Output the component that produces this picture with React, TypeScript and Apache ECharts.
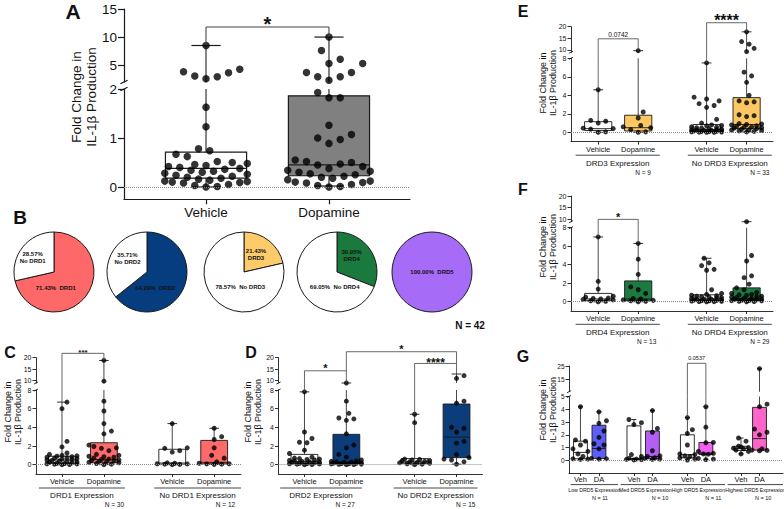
import React, { useEffect, useRef } from 'react';
import * as echarts from 'echarts';

const FAMILY = '"Liberation Sans", Arial, Helvetica, sans-serif';
const fnt = (size: number, bold = false) => `${bold ? 'bold ' : ''}${size}px ${FAMILY}`;

/* ======================= DATA ======================= */
// Panel A
const aCategories = ['Vehicle', 'Dopamine'];
const aVehicle = [8.5, 4.26, 3.83, 3.66, 3.07, 2.94, 2.59, 1.63, 1.23, 0.78, 0.74, 0.67, 0.62, 0.52, 0.5, 0.48, 0.46, 0.44, 0.42, 0.4, 0.38, 0.36, 0.34, 0.32, 0.3, 0.28, 0.26, 0.24, 0.22, 0.2, 0.18, 0.16, 0.14, 0.12, 0.11, 0.1, 0.09, 0.08, 0.05, 0.03, 0.01, 0.0];
const aDopamine = [10, 7.6, 6.05, 5.3, 5.3, 3.7, 3.7, 2.95, 2.95, 2.3, 1.93, 1.82, 1.82, 1.26, 1.07, 1.0, 0.97, 0.89, 0.55, 0.52, 0.5, 0.47, 0.45, 0.42, 0.38, 0.34, 0.32, 0.3, 0.27, 0.25, 0.22, 0.2, 0.18, 0.15, 0.12, 0.1, 0.09, 0.08, 0.05, 0.03, 0.01, 0.0];
// [min, q1, median, q3, max]
const aBoxStats = [[0, 0.18, 0.38, 0.71, 8.5], [0.02, 0.23, 0.45, 1.86, 10]];
const aSignificance = [{ a: 0, b: 1, top: 11.8, left: 8.5, right: 10, text: '*' }];

// Panel B
const pieNames = [['DRD1', 'No DRD1'], ['DRD2', 'No DRD2'], ['DRD3', 'No DRD3'], ['DRD4', 'No DRD4'], ['DRD5']];
const pieValues = [[71.43, 28.57], [64.29, 35.71], [21.43, 78.57], [30.95, 69.05], [100]];
const pieTotal = 'N = 42';

// Panel C
const pairCategories = ['Vehicle', 'Dopamine', 'Vehicle', 'Dopamine'];
const cDrd1Vehicle = [6.7, 6.0, 2.5, 1.9, 1.25, 1.1, 1.0, 0.95, 0.9, 0.85, 0.8, 0.75, 0.7, 0.65, 0.6, 0.55, 0.5, 0.45, 0.4, 0.35, 0.3, 0.25, 0.2, 0.15, 0.12, 0.1, 0.08, 0.05, 0.02, 0.0];
const cDrd1Dopamine = [18.8, 9.8, 6.8, 5.75, 4.4, 3.6, 3.3, 2.1, 1.95, 1.8, 1.75, 1.5, 1.1, 1.0, 0.9, 0.85, 0.8, 0.7, 0.6, 0.55, 0.5, 0.45, 0.4, 0.35, 0.3, 0.25, 0.2, 0.12, 0.05, 0.0];
const cNoDrd1Vehicle = [4.4, 1.8, 1.75, 1.5, 1.35, 0.2, 0.15, 0.1, 0.08, 0.05, 0.03, 0.0];
const cNoDrd1Dopamine = [3.9, 3.0, 2.7, 1.8, 1.0, 0.7, 0.3, 0.15, 0.1, 0.08, 0.05, 0.03];
const cBoxStats = [[0, 0.15, 0.5, 0.9, 6.7], [0, 0.2, 0.55, 2.35, 18.8], [0, 0.05, 0.18, 1.65, 4.4], [0.03, 0.08, 0.25, 2.6, 3.9]];
const cSignificance = [{ a: 0, b: 1, top: 21.9, left: 6.7, right: 18.8, text: '***' }];
const cGroupLabels = ['DRD1 Expression', 'No DRD1 Expression'];
const cGroupN = ['N = 30', 'N = 12'];

// Panel D
const dDrd2Vehicle = [7.8, 3.5, 2.8, 2.4, 2.35, 1.55, 1.2, 0.8, 0.7, 0.65, 0.6, 0.55, 0.5, 0.45, 0.4, 0.35, 0.3, 0.28, 0.25, 0.2, 0.15, 0.12, 0.1, 0.08, 0.05, 0.02, 0.0];
const dDrd2Dopamine = [9.0, 6.8, 5.5, 5.0, 4.9, 4.75, 3.3, 2.1, 1.8, 1.1, 0.8, 0.5, 0.4, 0.35, 0.3, 0.28, 0.25, 0.2, 0.18, 0.15, 0.12, 0.1, 0.08, 0.06, 0.04, 0.02, 0.0];
const dNoDrd2Vehicle = [5.4, 4.5, 0.6, 0.55, 0.5, 0.45, 0.4, 0.35, 0.3, 0.25, 0.2, 0.15, 0.1, 0.05, 0.0];
const dNoDrd2Dopamine = [12.2, 11.0, 6.8, 6.6, 4.0, 3.9, 3.5, 2.5, 2.3, 1.1, 0.75, 0.6, 0.5, 0.3, 0.05];
const dBoxStats = [[0, 0.1, 0.35, 1.1, 7.8], [0, 0.12, 0.3, 3.25, 9.0], [0, 0.15, 0.3, 0.65, 5.4], [0.05, 0.75, 2.95, 6.5, 12.9]];
const dSignificance = [
  { a: 0, b: 1, top: 14.3, left: 7.8, right: 9.0, text: '*' },
  { a: 2, b: 3, top: 17.5, left: 5.4, right: 12.9, text: '****' },
  { a: 1, b: 3, top: 22.6, left: 14.3, right: 17.5, text: '*' },
];
const dGroupLabels = ['DRD2 Expression', 'No DRD2 Expression'];
const dGroupN = ['N = 27', 'N = 15'];

// Panel E
const eDrd3Vehicle = [4.6, 1.3, 1.2, 1.0, 0.45, 0.4, 0.35, 0.05, 0.0];
const eDrd3Dopamine = [9.7, 2.2, 1.55, 0.75, 0.6, 0.5, 0.3, 0.05, 0.0];
const eNoDrd3Vehicle = [7.5, 3.8, 3.6, 3.4, 3.1, 2.9, 2.7, 1.4, 1.0, 0.8, 0.75, 0.7, 0.6, 0.55, 0.5, 0.45, 0.4, 0.35, 0.3, 0.28, 0.25, 0.22, 0.2, 0.18, 0.15, 0.12, 0.1, 0.08, 0.06, 0.04, 0.02, 0.01, 0.0];
const eNoDrd3Dopamine = [17.8, 13.6, 12.5, 10.7, 9.3, 6.5, 6.1, 5.4, 4.0, 3.4, 3.3, 3.2, 1.9, 1.8, 1.7, 0.95, 0.9, 0.85, 0.8, 0.7, 0.65, 0.6, 0.55, 0.5, 0.45, 0.4, 0.35, 0.3, 0.25, 0.2, 0.15, 0.1, 0.05];
const eBoxStats = [[0, 0.2, 0.4, 1.15, 4.6], [0, 0.15, 0.5, 1.85, 9.7], [0, 0.1, 0.3, 0.85, 7.5], [0.05, 0.4, 0.85, 3.75, 17.8]];
const eSignificance = [
  { a: 0, b: 1, top: 14.8, left: 4.6, right: 9.7, text: '0.0742' },
  { a: 2, b: 3, top: 21.7, left: 7.5, right: 17.8, text: '****' },
];
const eGroupLabels = ['DRD3 Expression', 'No DRD3 Expression'];
const eGroupN = ['N = 9', 'N = 33'];

// Panel F
const fDrd4Vehicle = [7.0, 2.2, 1.37, 0.6, 0.5, 0.4, 0.35, 0.3, 0.25, 0.2, 0.1, 0.05, 0.0];
const fDrd4Dopamine = [6.3, 4.6, 2.95, 1.6, 1.3, 0.9, 0.35, 0.3, 0.2, 0.15, 0.1, 0.05, 0.0];
const fNoDrd4Vehicle = [4.7, 4.2, 3.9, 3.5, 3.4, 1.3, 0.9, 0.8, 0.7, 0.65, 0.6, 0.55, 0.5, 0.45, 0.4, 0.35, 0.3, 0.28, 0.25, 0.2, 0.18, 0.15, 0.12, 0.1, 0.08, 0.05, 0.03, 0.01, 0.0];
const fNoDrd4Dopamine = [9.0, 5.0, 4.4, 2.8, 2.6, 1.9, 1.5, 1.3, 1.0, 0.9, 0.8, 0.75, 0.7, 0.6, 0.55, 0.5, 0.45, 0.4, 0.35, 0.3, 0.25, 0.2, 0.18, 0.15, 0.12, 0.1, 0.05, 0.02, 0.0];
const fBoxStats = [[0, 0.12, 0.3, 0.9, 7.0], [0, 0.1, 0.3, 2.25, 6.3], [0, 0.1, 0.3, 0.75, 4.7], [0, 0.15, 0.35, 1.5, 9.0]];
const fSignificance = [{ a: 0, b: 1, top: 10, left: 7.0, right: 6.3, text: '*' }];
const fGroupLabels = ['DRD4 Expression', 'No DRD4 Expression'];
const fGroupN = ['N = 13', 'N = 29'];

// Panel G
const gCategories = ['Veh', 'DA', 'Veh', 'DA', 'Veh', 'DA', 'Veh', 'DA'];
const gLowVeh = [4.2, 1.6, 1.5, 1.2, 0.9, 0.7, 0.5, 0.3, 0.12, 0.1, 0.08];
const gLowDA = [3.8, 3.1, 2.9, 2.3, 1.8, 1.3, 1.2, 0.9, 0.15, 0.12, 0.1];
const gMedVeh = [3.2, 2.95, 2.8, 0.45, 0.3, 0.15, 0.1, 0.08, 0.05, 0.03];
const gMedDA = [3.9, 2.5, 2.2, 0.75, 0.35, 0.3, 0.2, 0.15, 0.1, 0.08];
const gHighVeh = [3.35, 2.4, 2.1, 1.2, 0.5, 0.45, 0.35, 0.3, 0.2, 0.1, 0.02];
const gHighDA = [4.2, 2.6, 1.4, 1.38, 0.7, 0.55, 0.5, 0.48, 0.15, 0.1, 0.05];
const gHighestVeh = [1.75, 1.5, 1.1, 1.05, 1.0, 0.95, 0.9, 0.8, 0.7, 0.5];
const gHighestDA = [23, 4.4, 4.2, 2.45, 2.2, 2.0, 0.9, 0.8, 0.78, 0.75];
const gBoxStats = [[0.08, 0.12, 0.62, 1.5, 4.2], [0.1, 0.15, 0.93, 2.75, 3.8], [0.03, 0.06, 0.15, 2.7, 3.2], [0.08, 0.12, 0.3, 2.3, 3.9], [0.02, 0.2, 0.45, 2.0, 3.35], [0.05, 0.45, 0.55, 1.4, 4.2], [0.5, 0.78, 0.95, 1.1, 1.75], [0.75, 0.8, 1.7, 4.15, 23]];
const gSignificance = [{ a: 4, b: 5, top: 27, left: 3.35, right: 4.2, text: '0.0537' }];
const gGroupLabels = ['Low DRD5 Expression', 'Med DRD5 Expression', 'High DRD5 Expression', 'Highest DRD5 Expression'];
const gGroupN = ['N = 11', 'N = 10', 'N = 11', 'N = 10'];

const yTitle = 'Fold Change in\nIL-1β Production';

/* ======================= LAYOUT / STYLE ======================= */
type Seg = { top: number; bottom: number; min: number; max: number; ticks: number[] };
type Sig = { a: number; b: number; top: number; left: number; right: number; text: string };
type Layout = {
  left: number; width: number; xMin: number; xMax: number; pos: number[];
  upper: Seg; lower: Seg;
  boxW: number; dot: number; spread: number; sx: number; sy: number; lw: number;
  tickFont: number; tickLen: number; yMargin: number;
  xFont: number; xTickLen: number; xMargin: number;
  sigFont: number[]; sigBold: boolean[]; sigLift: number[];
  spans: number[][]; nAt: number[];
  gLine: number; gLabel: number; gN: number; gFont: number; nFont: number;
};
type PanelDef = {
  L: Layout; labels: string[]; values: number[][]; stats: number[][]; fills: string[];
  sig: Sig[]; groupLabels: string[]; groupN: string[];
};

const pairUpper = (top: number, bottom: number): Seg => ({ top, bottom, min: 9, max: 20, ticks: [10, 15, 20] });
const pairLower = (top: number, bottom: number): Seg => ({ top, bottom, min: -1, max: 8, ticks: [0, 2, 4, 6, 8] });

const baseSmall = {
  boxW: 0.64, dot: 5, spread: 1.25, sx: 1.25, sy: 1.6, lw: 0.9,
  tickFont: 7, tickLen: 3.5, yMargin: 4.5,
  xFont: 7.5, xTickLen: 3, xMargin: 3.5,
  gLine: 14, gLabel: 21.7, gN: 30, gFont: 8, nFont: 6.5,
};

const layoutA: Layout = {
  left: 124, width: 286, xMin: -0.667, xMax: 1.659, pos: [0, 1],
  upper: { top: 9, bottom: 82, min: 2, max: 15, ticks: [5, 10, 15] },
  lower: { top: 89, bottom: 199.25, min: -0.25, max: 2, ticks: [0, 1, 2] },
  boxW: 0.66, dot: 7.5, spread: 1.05, sx: 1.35, sy: 2.2, lw: 1.2,
  tickFont: 13.5, tickLen: 6, yMargin: 7,
  xFont: 13.5, xTickLen: 5, xMargin: 6.5,
  sigFont: [20], sigBold: [true], sigLift: [2.6],
  spans: [], nAt: [], gLine: 0, gLabel: 0, gN: 0, gFont: 8, nFont: 6,
};
const layoutC: Layout = {
  ...baseSmall, left: 36, width: 205, xMin: -0.62, xMax: 4.27, pos: [0, 1, 2.63, 3.63],
  upper: pairUpper(357.7, 383), lower: pairLower(390, 474),
  sigFont: [8], sigBold: [true], sigLift: [0.5],
  spans: [[-0.55, 1.5], [2.2, 4.27]], nAt: [1.25, 3.9],
};
const layoutD: Layout = {
  ...baseSmall, left: 278.5, width: 204, xMin: -0.62, xMax: 4.25, pos: [0, 1, 2.63, 3.63],
  upper: pairUpper(357.7, 383), lower: pairLower(390, 474),
  sigFont: [11, 12, 11], sigBold: [true, true, true], sigLift: [2.6, 0.3, 2.6],
  spans: [[-0.58, 1.37], [2.13, 4.13]], nAt: [0.97, 3.85],
};
const layoutE: Layout = {
  ...baseSmall, boxW: 0.68, left: 571, width: 202, xMin: -0.68, xMax: 4.37, pos: [0, 1, 2.71, 3.71],
  upper: pairUpper(26.7, 52.3), lower: pairLower(58.3, 141.6),
  sigFont: [6.5, 16], sigBold: [false, true], sigLift: [4.7, 1.9],
  spans: [[-0.565, 1.54], [2.24, 4.34]], nAt: [1.12, 4.04],
  gLine: 13.6, gLabel: 21.6, gN: 30.6,
};
const layoutF: Layout = {
  ...layoutE,
  upper: pairUpper(196.1, 221.7), lower: pairLower(227.7, 311),
  sigFont: [11], sigBold: [true], sigLift: [2.6],
  nAt: [1.21, 4.04], gLine: 13.3, gLabel: 21.3, gN: 30,
};
const layoutG: Layout = {
  left: 569, width: 214, xMin: -0.62, xMax: 10.95, pos: [0, 1, 2.89, 3.89, 5.78, 6.78, 8.68, 9.68],
  upper: { top: 366, bottom: 391.7, min: 6, max: 25, ticks: [15, 25] },
  lower: { top: 396.5, bottom: 473.1, min: -1, max: 5, ticks: [0, 1, 2, 3, 4, 5] },
  boxW: 0.75, dot: 5, spread: 1.3, sx: 1.2, sy: 1.5, lw: 0.9,
  tickFont: 6.5, tickLen: 3.5, yMargin: 4.5,
  xFont: 7.5, xTickLen: 3, xMargin: 2.5,
  sigFont: [5.5], sigBold: [false], sigLift: [5.3],
  spans: [[-0.53, 2.03], [2.17, 4.84], [4.95, 7.81], [7.96, 10.95]], nAt: [1.05, 4.3, 7.18, 9.88],
  gLine: 11.5, gLabel: 17, gN: 25, gFont: 5.2, nFont: 5.5,
};

const RED = '#FC6A6A', NAVY = '#0B3D7B', YELLOW = '#FDC764', GREEN = '#1C7B40';
const panels: PanelDef[] = [
  { L: layoutA, labels: aCategories, values: [aVehicle, aDopamine], stats: aBoxStats, fills: ['#ffffff', '#808080'], sig: aSignificance, groupLabels: [], groupN: [] },
  { L: layoutC, labels: pairCategories, values: [cDrd1Vehicle, cDrd1Dopamine, cNoDrd1Vehicle, cNoDrd1Dopamine], stats: cBoxStats, fills: ['#fff', RED, '#fff', RED], sig: cSignificance, groupLabels: cGroupLabels, groupN: cGroupN },
  { L: layoutD, labels: pairCategories, values: [dDrd2Vehicle, dDrd2Dopamine, dNoDrd2Vehicle, dNoDrd2Dopamine], stats: dBoxStats, fills: ['#fff', NAVY, '#fff', NAVY], sig: dSignificance, groupLabels: dGroupLabels, groupN: dGroupN },
  { L: layoutE, labels: pairCategories, values: [eDrd3Vehicle, eDrd3Dopamine, eNoDrd3Vehicle, eNoDrd3Dopamine], stats: eBoxStats, fills: ['#fff', YELLOW, '#fff', YELLOW], sig: eSignificance, groupLabels: eGroupLabels, groupN: eGroupN },
  { L: layoutF, labels: pairCategories, values: [fDrd4Vehicle, fDrd4Dopamine, fNoDrd4Vehicle, fNoDrd4Dopamine], stats: fBoxStats, fills: ['#fff', GREEN, '#fff', GREEN], sig: fSignificance, groupLabels: fGroupLabels, groupN: fGroupN },
  { L: layoutG, labels: gCategories, values: [gLowVeh, gLowDA, gMedVeh, gMedDA, gHighVeh, gHighDA, gHighestVeh, gHighestDA], stats: gBoxStats, fills: ['#fff', '#5E5EF7', '#fff', '#B45FF4', '#fff', '#F160F2', '#fff', '#FF64C8'], sig: gSignificance, groupLabels: gGroupLabels, groupN: gGroupN },
];

const pieColors = ['#FF6868', '#053D7E', '#FDCB6A', '#1A7A3E', '#A66CF7'];
const pieCenters = [54, 147, 244, 337, 432];
const pieCenterY = 272;
const pieRadius = 40;
const pieLabelOffsets = [
  [[1.8, 16.3], [-21.3, -14.2]],
  [[8.3, 16], [-19.5, -14]],
  [[12, -18], [-3.7, 15.3]],
  [[14.7, -17], [-2.3, 15.3]],
  [[0, 0]],
];

const INK = '#1a1a1a';

/* ======================= HELPERS ======================= */
function nearestIndex(arr: number[], v: number) {
  let best = 0;
  for (let i = 1; i < arr.length; i++) if (Math.abs(arr[i] - v) < Math.abs(arr[best] - v)) best = i;
  return best;
}

// deterministic horizontal spread of the dots around their category (layout only)
function swarm(vals: number[], center: number, L: Layout): number[][] {
  const ux = L.width / (L.xMax - L.xMin);
  const lk = (L.lower.bottom - L.lower.top) / (L.lower.max - L.lower.min);
  const uk = (L.upper.bottom - L.upper.top) / (L.upper.max - L.upper.min);
  const toPx = (v: number) => (v <= L.lower.max
    ? L.lower.bottom - (v - L.lower.min) * lk
    : L.upper.bottom - (Math.max(v, L.upper.min) - L.upper.min) * uk);
  const d = L.dot * 0.95;
  const step = L.dot * 0.5;
  const half = (L.boxW * ux * L.spread) / 2;
  const cands: number[] = [0];
  for (let k = 1; k * step <= half + 0.01; k++) cands.push(k * step, -k * step);
  const order = vals.map((_, i) => i).sort((i, j) => vals[i] - vals[j]);
  const placed: { x: number; y: number }[] = [];
  const out: number[][] = new Array(vals.length);
  for (const i of order) {
    const y = toPx(vals[i]);
    let best = 0, bestScore = Infinity;
    for (const c of cands) {
      let s = 0;
      for (const q of placed) {
        const dist = Math.hypot((q.x - c) / L.sx, (q.y - y) / L.sy);
        if (dist < d) s += d - dist;
      }
      if (s < bestScore - 1e-9) { bestScore = s; best = c; if (s === 0) break; }
    }
    placed.push({ x: best, y });
    out[i] = [center + best / ux, vals[i]];
  }
  return out;
}

const line = (x1: number, y1: number, x2: number, y2: number, lw: number, color = INK) => ({
  type: 'line', shape: { x1, y1, x2, y2 }, style: { stroke: color, lineWidth: lw },
});
const text = (x: number, y: number, str: string, font: string, align = 'center', vAlign = 'middle') => ({
  type: 'text', x, y,
  style: { text: str, font, fill: '#111', align, verticalAlign: vAlign, textAlign: align, textVerticalAlign: vAlign },
});

const boxRender = (P: PanelDef) => (params: any, api: any) => {
  const L = P.L;
  const cs = params.coordSys;
  const top = cs.y, bot = cs.y + cs.height;
  const cl = (y: number) => Math.max(top, Math.min(bot, y));
  const inside = (y: number) => y >= top - 0.5 && y <= bot + 0.5;
  const xv = api.value(0);
  const cx = api.coord([xv, 0])[0];
  const py = (v: number) => api.coord([xv, v])[1];
  const yMin = py(api.value(1)), yQ1 = py(api.value(2)), yMed = py(api.value(3)), yQ3 = py(api.value(4)), yMax = py(api.value(5));
  const w = api.size([L.boxW, 0])[0];
  const cap = w * 0.36;
  const fill = P.fills[api.value(6)];
  const ch: any[] = [];
  let a = cl(yQ3), b = cl(yMax);
  if (a - b > 0.5) ch.push(line(cx, a, cx, b, L.lw, '#333'));
  a = cl(yMin); b = cl(yQ1);
  if (a - b > 0.5) ch.push(line(cx, a, cx, b, L.lw, '#333'));
  const bt = cl(yQ3), bb = cl(yQ1);
  if (bb - bt > 0.3) ch.push({ type: 'rect', shape: { x: cx - w / 2, y: bt, width: w, height: bb - bt }, style: { fill, stroke: INK, lineWidth: L.lw } });
  if (inside(yMed)) ch.push(line(cx - w / 2, yMed, cx + w / 2, yMed, L.lw));
  if (inside(yMax)) ch.push(line(cx - cap / 2, yMax, cx + cap / 2, yMax, L.lw));
  if (inside(yMin)) ch.push(line(cx - cap / 2, yMin, cx + cap / 2, yMin, L.lw));
  return { type: 'group', children: ch };
};

const sigRender = (P: PanelDef, isUpper: boolean) => (params: any, api: any) => {
  const L = P.L;
  const cs = params.coordSys;
  const top = cs.y, bot = cs.y + cs.height;
  const i = api.value(5);
  const x1 = api.coord([api.value(0), 0])[0];
  const x2 = api.coord([api.value(1), 0])[0];
  const legs: [number, number][] = [[x1, api.value(3)], [x2, api.value(4)]];
  const ch: any[] = [];
  const lw = L.lw * 0.9;
  if (isUpper) {
    const yt = api.coord([0, api.value(2)])[1];
    ch.push(line(x1, yt, x2, yt, lw, '#444'));
    const gap = L.lower.top - L.upper.bottom;
    for (const [xx, v] of legs) {
      const yb = v >= L.upper.min ? api.coord([0, v])[1] : bot + gap;
      if (yb > yt) ch.push(line(xx, yt, xx, yb, lw, '#444'));
    }
    ch.push(text((x1 + x2) / 2, yt - L.sigLift[i], P.sig[i].text, fnt(L.sigFont[i], L.sigBold[i])));
  } else {
    for (const [xx, v] of legs) {
      if (v <= L.lower.max) {
        const yb = api.coord([0, v])[1];
        if (yb > top) ch.push(line(xx, top, xx, yb, lw, '#444'));
      }
    }
  }
  return { type: 'group', children: ch };
};

// small slanted marks at both ends of the y-axis discontinuity
const breakRender = (P: PanelDef) => (params: any) => {
  const L = P.L;
  const cs = params.coordSys;
  const x = cs.x;
  const yb = cs.y + cs.height;
  const yt = yb + (L.lower.top - L.upper.bottom);
  const h = L.tickLen * 0.6;
  return {
    type: 'group',
    children: [
      line(x - h, yb + h * 0.5, x + h, yb - h * 0.5, L.lw),
      line(x - h, yt + h * 0.5, x + h, yt - h * 0.5, L.lw),
    ],
  };
};

const groupRender = (P: PanelDef) => (params: any, api: any) => {
  const L = P.L;
  const cs = params.coordSys;
  const y0 = cs.y + cs.height;
  const i = api.value(3);
  const xa = api.coord([api.value(0), 0])[0];
  const xb = api.coord([api.value(1), 0])[0];
  const xn = api.coord([api.value(2), 0])[0];
  return {
    type: 'group',
    children: [
      line(xa, y0 + L.gLine, xb, y0 + L.gLine, L.lw, '#333'),
      text((xa + xb) / 2, y0 + L.gLabel, P.groupLabels[i], fnt(L.gFont)),
      text(xn, y0 + L.gN, P.groupN[i], fnt(L.nFont)),
    ],
  };
};

function buildOption() {
  const grid: any[] = [], xAxis: any[] = [], yAxis: any[] = [], series: any[] = [];
  for (const P of panels) {
    const L = P.L;
    const gu = grid.length, gl = gu + 1;
    grid.push({ left: L.left, top: L.upper.top, width: L.width, height: L.upper.bottom - L.upper.top, outerBoundsMode: 'none' });
    grid.push({ left: L.left, top: L.lower.top, width: L.width, height: L.lower.bottom - L.lower.top, outerBoundsMode: 'none' });
    const ls = { color: INK, width: L.lw };
    xAxis.push({ gridIndex: gu, type: 'value', min: L.xMin, max: L.xMax, show: false });
    xAxis.push({
      gridIndex: gl, type: 'value', min: L.xMin, max: L.xMax,
      axisLine: { show: true, onZero: false, lineStyle: ls },
      axisTick: { show: true, customValues: L.pos, length: L.xTickLen, lineStyle: ls },
      axisLabel: {
        show: true, customValues: L.pos, margin: L.xMargin, fontSize: L.xFont, color: '#111', fontFamily: FAMILY,
        formatter: (v: number) => P.labels[nearestIndex(L.pos, v)],
      },
      splitLine: { show: false },
    });
    const yAx = (gi: number, s: Seg) => ({
      gridIndex: gi, type: 'value', min: s.min, max: s.max,
      axisLine: { show: true, onZero: false, lineStyle: ls },
      axisTick: { show: true, customValues: s.ticks, length: L.tickLen, lineStyle: ls },
      axisLabel: { show: true, customValues: s.ticks, margin: L.yMargin, fontSize: L.tickFont, color: '#111', fontFamily: FAMILY, formatter: (v: number) => String(v) },
      splitLine: { show: false },
    });
    yAxis.push(yAx(gu, L.upper));
    yAxis.push(yAx(gl, L.lower));

    const boxData = P.stats.map((s, i) => [L.pos[i], ...s, i]);
    for (const gi of [gu, gl]) {
      series.push({ type: 'custom', xAxisIndex: gi, yAxisIndex: gi, data: boxData, renderItem: boxRender(P), z: 2, silent: true });
    }

    const pts = P.values.flatMap((vals, i) => swarm(vals, L.pos[i], L));
    const up = pts.filter((p) => p[1] > L.lower.max);
    const low = pts.filter((p) => p[1] <= L.lower.max);
    series.push({ type: 'scatter', xAxisIndex: gu, yAxisIndex: gu, data: up, symbolSize: L.dot, itemStyle: { color: '#000' }, z: 3, silent: true, clip: false });
    series.push({
      type: 'scatter', xAxisIndex: gl, yAxisIndex: gl, data: low, symbolSize: L.dot, itemStyle: { color: '#000' }, z: 3, silent: true, clip: false,
      markLine: { silent: true, symbol: 'none', label: { show: false }, animation: false, lineStyle: { type: 'dotted', color: '#8a8a8a', width: 1 }, data: [{ yAxis: 0 }] },
    });

    const sigData = P.sig.map((s, i) => [L.pos[s.a], L.pos[s.b], s.top, s.left, s.right, i]);
    series.push({ type: 'custom', xAxisIndex: gu, yAxisIndex: gu, data: sigData, renderItem: sigRender(P, true), z: 4, silent: true });
    series.push({ type: 'custom', xAxisIndex: gl, yAxisIndex: gl, data: sigData, renderItem: sigRender(P, false), z: 4, silent: true });
    series.push({ type: 'custom', xAxisIndex: gu, yAxisIndex: gu, data: [[L.xMin, L.upper.min]], renderItem: breakRender(P), z: 5, silent: true });

    if (P.groupLabels.length) {
      const gData = P.groupLabels.map((_, i) => [L.spans[i][0], L.spans[i][1], L.nAt[i], i]);
      series.push({ type: 'custom', xAxisIndex: gl, yAxisIndex: gl, data: gData, renderItem: groupRender(P), z: 4, silent: true });
    }
  }

  pieValues.forEach((vals, pi) => {
    series.push({
      type: 'pie', center: [pieCenters[pi], pieCenterY], radius: pieRadius, startAngle: 90, clockwise: true,
      silent: true, avoidLabelOverlap: false,
      data: vals.map((v, j) => ({ value: v, name: pieNames[pi][j], itemStyle: { color: j === 0 ? pieColors[pi] : '#ffffff' } })),
      itemStyle: { borderColor: INK, borderWidth: 1 },
      label: {
        show: true, position: 'center', color: '#111', fontSize: 6, fontWeight: 'bold', lineHeight: 7, fontFamily: FAMILY,
        formatter: (p: any) => (p.percent < 50 ? `${p.value.toFixed(2)}%\n${p.name}` : `${p.value.toFixed(2)}%  ${p.name}`),
      },
      labelLine: { show: false },
      labelLayout: (p: any) => {
        const o = pieLabelOffsets[pi][p.dataIndex];
        return { dx: o[0], dy: o[1] };
      },
    });
  });

  const letters: [string, number, number, number][] = [
    ['A', 73, 11, 21], ['B', 20, 217, 19], ['C', 10, 352, 16], ['D', 251, 352, 16],
    ['E', 523, 11, 16], ['F', 523, 189, 16], ['G', 523, 356, 16],
  ];
  const titles: [number, number, number][] = [
    [84, 97, 13.5], [13, 412, 9], [253, 412, 9], [548, 83, 9], [548, 247, 9], [548, 410, 9],
  ];
  const graphic: any[] = [
    ...letters.map(([t, x, y, s]) => ({ type: 'text', x, y, style: { text: t, font: fnt(s, true), fill: '#111', align: 'center', verticalAlign: 'middle', textAlign: 'center', textVerticalAlign: 'middle' } })),
    ...titles.map(([x, y, s]) => ({
      type: 'text', x, y, rotation: Math.PI / 2,
      style: { text: yTitle, font: fnt(s), lineHeight: s * 1.08, fill: '#111', align: 'center', verticalAlign: 'middle', textAlign: 'center', textVerticalAlign: 'middle' },
    })),
    { type: 'text', x: 470, y: 325, style: { text: pieTotal, font: fnt(10, true), fill: '#111', align: 'center', verticalAlign: 'middle', textAlign: 'center', textVerticalAlign: 'middle' } },
  ];

  return {
    animation: false,
    backgroundColor: '#ffffff',
    textStyle: { fontFamily: FAMILY },
    grid, xAxis, yAxis, series, graphic,
  };
}

export default function App() {
  const ref = useRef<HTMLDivElement>(null);
  useEffect(() => {
    if (!ref.current) return;
    const chart = echarts.init(ref.current, undefined, { renderer: 'svg' });
    chart.setOption(buildOption() as any);
    return () => chart.dispose();
  }, []);
  return <div ref={ref} style={{ position: 'fixed', left: 0, top: 0, width: 784, height: 509, background: '#fff' }} />;
}
